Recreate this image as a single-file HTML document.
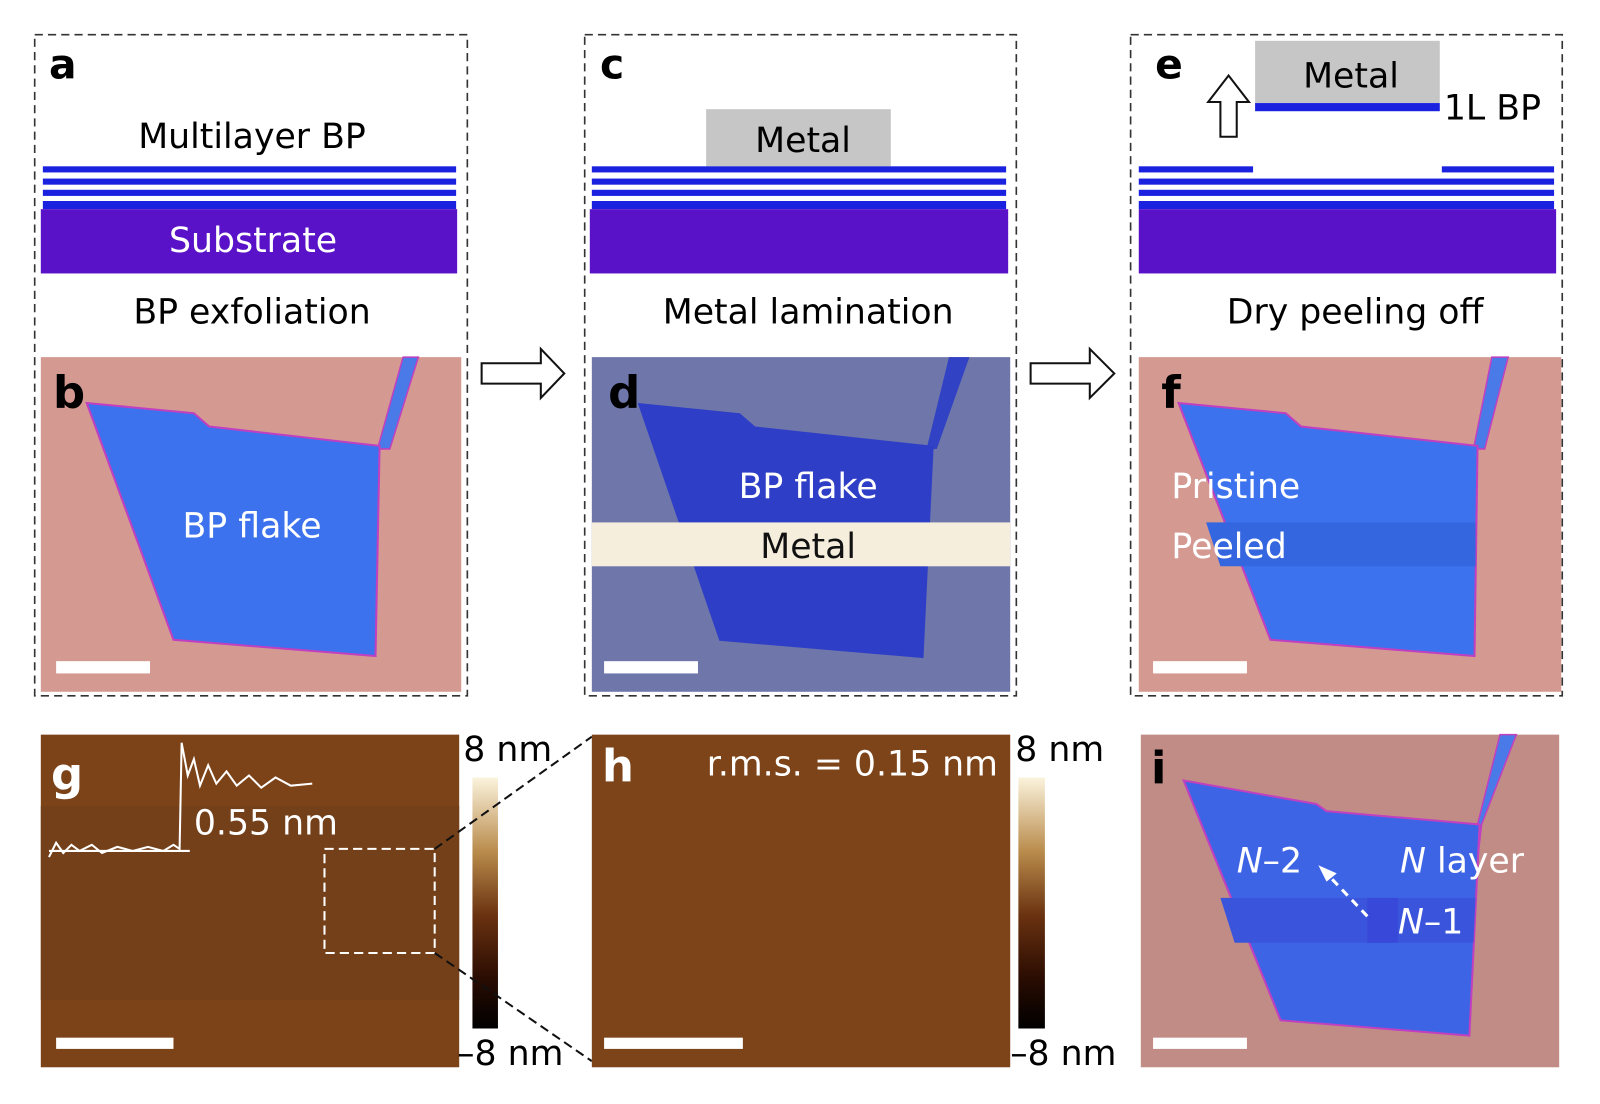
<!DOCTYPE html>
<html><head><meta charset="utf-8"><style>
html,body{margin:0;padding:0;background:#fff}
svg{display:block}
text{font-family:"DejaVu Sans","Liberation Sans",sans-serif}
</style></head><body>
<svg width="1600" height="1104" viewBox="0 0 1568 1082" preserveAspectRatio="none" xmlns="http://www.w3.org/2000/svg">
<defs>
<linearGradient id="cb" x1="0" y1="0" x2="0" y2="1">
<stop offset="0" stop-color="#fbf3dc"/><stop offset="0.3" stop-color="#b88a4a"/><stop offset="0.55" stop-color="#6a3210"/><stop offset="0.8" stop-color="#2a0c02"/><stop offset="1" stop-color="#000"/>
</linearGradient>
</defs>
<rect width="1568" height="1082" fill="#fff"/>
<!-- dashed boxes -->
<g fill="none" stroke="#333" stroke-width="1.6" stroke-dasharray="8,5">
<rect x="34" y="34" width="424" height="648"/>
<rect x="573" y="34" width="423" height="648"/>
<rect x="1108" y="34" width="423" height="648"/>
</g>
<!-- a -->
<text x="48" y="77" font-size="40" font-weight="bold" font-family="Liberation Sans">a</text>
<text x="247" y="145" font-size="34" text-anchor="middle">Multilayer BP</text>
<g fill="#1a22e0">
<rect x="42" y="163" width="405" height="6"/><rect x="42" y="175" width="405" height="6"/><rect x="42" y="186" width="405" height="6"/><rect x="42" y="197" width="405" height="8"/>
</g>
<rect x="40" y="205" width="408" height="63" fill="#5a12c8"/>
<text x="248" y="247" font-size="34" fill="#fff" text-anchor="middle">Substrate</text>
<text x="247" y="317" font-size="34" text-anchor="middle">BP exfoliation</text>
<!-- c -->
<text x="588" y="77" font-size="40" font-weight="bold" font-family="Liberation Sans">c</text>
<rect x="692" y="107" width="181" height="56" fill="#c6c6c6"/>
<text x="787" y="149" font-size="34" text-anchor="middle">Metal</text>
<g fill="#1a22e0">
<rect x="580" y="163" width="406" height="6"/><rect x="580" y="175" width="406" height="6"/><rect x="580" y="186" width="406" height="6"/><rect x="580" y="197" width="406" height="8"/>
</g>
<rect x="578" y="205" width="410" height="63" fill="#5a12c8"/>
<text x="792" y="317" font-size="34" text-anchor="middle">Metal lamination</text>
<!-- e -->
<text x="1132" y="77" font-size="40" font-weight="bold" font-family="Liberation Sans">e</text>
<rect x="1230" y="40" width="181" height="61" fill="#c6c6c6"/>
<rect x="1230" y="101" width="181" height="8" fill="#1a22e0"/>
<text x="1324" y="86" font-size="34" text-anchor="middle">Metal</text>
<text x="1415" y="117" font-size="34">1L BP</text>
<path d="M1196,134 L1196,100 L1184,100 L1204,74 L1224,100 L1212,100 L1212,134 Z" fill="#fff" stroke="#111" stroke-width="2"/>
<g fill="#1a22e0">
<rect x="1116" y="163" width="112" height="6"/><rect x="1413" y="163" width="110" height="6"/><rect x="1116" y="175" width="407" height="6"/><rect x="1116" y="186" width="407" height="6"/><rect x="1116" y="197" width="407" height="8"/>
</g>
<rect x="1116" y="205" width="409" height="63" fill="#5a12c8"/>
<text x="1328" y="317" font-size="34" text-anchor="middle">Dry peeling off</text>
<!-- arrows -->
<path d="M472,356 L530,356 L530,342 L553,366 L530,390 L530,376 L472,376 Z" fill="#fff" stroke="#111" stroke-width="2"/>
<path d="M1010,356 L1068,356 L1068,342 L1092,366 L1068,390 L1068,376 L1010,376 Z" fill="#fff" stroke="#111" stroke-width="2"/>
<!-- b -->
<rect x="40" y="350" width="412" height="328" fill="#d49a92"/>
<path d="M395,350 L410,350 L382,440 L370,440 Z" fill="#4a7ae8" stroke="#c040c0" stroke-width="1.5"/>
<path d="M85,395 L190,405 L205,418 L372,437 L368,643 L170,627 Z" fill="#3c72ee" stroke="#c040c0" stroke-width="2"/>
<text x="52" y="400" font-size="44" font-weight="bold" font-family="Liberation Sans">b</text>
<text x="247" y="527" font-size="34" fill="#fff" text-anchor="middle">BP flake</text>
<rect x="55" y="648" width="92" height="12" fill="#fff"/>
<!-- d -->
<rect x="580" y="350" width="410" height="328" fill="#6e76aa"/>
<path d="M930,350 L950,350 L918,440 L908,440 Z" fill="#3242c4"/>
<path d="M625,395 L725,405 L740,418 L915,437 L905,645 L705,628 Z" fill="#2f3ec6"/>
<rect x="580" y="512" width="410" height="43" fill="#f6eedc"/>
<text x="596" y="400" font-size="44" font-weight="bold" font-family="Liberation Sans">d</text>
<text x="792" y="488" font-size="34" fill="#fff" text-anchor="middle">BP flake</text>
<text x="792" y="547" font-size="34" fill="#111" text-anchor="middle">Metal</text>
<rect x="592" y="648" width="92" height="12" fill="#fff"/>
<!-- f -->
<rect x="1116" y="350" width="414" height="328" fill="#d49a92"/>
<path d="M1462,350 L1478,350 L1455,440 L1444,440 Z" fill="#4a7ae8" stroke="#c040c0" stroke-width="1.5"/>
<path d="M1155,395 L1260,405 L1275,418 L1448,437 L1445,643 L1245,627 Z" fill="#3c72ee" stroke="#c040c0" stroke-width="2"/>
<path d="M1182,512 L1446,512 L1446,555 L1196,555 Z" fill="#3466e0"/>
<text x="1138" y="400" font-size="44" font-weight="bold" font-family="Liberation Sans">f</text>
<text x="1148" y="488" font-size="34" fill="#fff">Pristine</text>
<text x="1148" y="547" font-size="34" fill="#fff">Peeled</text>
<rect x="1130" y="648" width="92" height="12" fill="#fff"/>
<!-- g -->
<rect x="40" y="720" width="410" height="326" fill="#7c4319"/>
<rect x="40" y="790" width="410" height="190" fill="#74401a"/>
<text x="50" y="774" font-size="44" font-weight="bold" font-family="Liberation Sans" fill="#fff">g</text>
<polyline points="48,840 55,826 62,836 70,828 78,834 90,828 100,836 115,830 130,834 145,830 160,834 170,828 176,832 178,728 184,760 190,744 196,770 204,750 212,768 222,756 232,770 244,760 256,772 270,762 285,770 306,768" fill="none" stroke="#fff" stroke-width="2"/>
<line x1="48" y1="834" x2="186" y2="834" stroke="#fff" stroke-width="2"/>
<text x="190" y="818" font-size="34" fill="#fff">0.55 nm</text>
<rect x="318" y="832" width="108" height="102" fill="none" stroke="#fff" stroke-width="2" stroke-dasharray="9,5"/>
<rect x="55" y="1017" width="115" height="11" fill="#fff"/>
<rect x="463" y="762" width="25" height="246" fill="url(#cb)"/>
<text x="454" y="746" font-size="34">8 nm</text>
<text x="448" y="1044" font-size="34">–8 nm</text>
<line x1="426" y1="832" x2="580" y2="722" stroke="#111" stroke-width="2" stroke-dasharray="9,5"/>
<line x1="426" y1="934" x2="580" y2="1040" stroke="#111" stroke-width="2" stroke-dasharray="9,5"/>
<!-- h -->
<rect x="580" y="720" width="410" height="326" fill="#7d4419"/>
<text x="590" y="766" font-size="44" font-weight="bold" font-family="Liberation Sans" fill="#fff">h</text>
<text x="978" y="760" font-size="34" fill="#fff" text-anchor="end">r.m.s. = 0.15 nm</text>
<rect x="592" y="1017" width="136" height="11" fill="#fff"/>
<rect x="998" y="762" width="26" height="246" fill="url(#cb)"/>
<text x="995" y="746" font-size="34">8 nm</text>
<text x="990" y="1044" font-size="34">–8 nm</text>
<!-- i -->
<rect x="1118" y="720" width="410" height="326" fill="#c28c86"/>
<path d="M1470,720 L1486,720 L1452,808 L1446,860 L1448,808 Z" fill="#4a7ae8" stroke="#c040c0" stroke-width="1.5"/>
<path d="M1160,765 L1290,788 L1300,795 L1450,808 L1440,1015 L1255,1000 Z" fill="#3e64e6" stroke="#c040c0" stroke-width="2"/>
<path d="M1196,880 L1446,880 L1444,924 L1210,924 Z" fill="#3a54dc"/>
<rect x="1340" y="880" width="30" height="44" fill="#3848d8"/>
<text x="1128" y="768" font-size="44" font-weight="bold" font-family="Liberation Sans">i</text>
<text x="1212" y="855" font-size="34" fill="#fff"><tspan font-style="italic">N</tspan>–2</text>
<text x="1372" y="855" font-size="34" fill="#fff"><tspan font-style="italic">N</tspan> layer</text>
<text x="1370" y="915" font-size="34" fill="#fff"><tspan font-style="italic">N</tspan>–1</text>
<line x1="1340" y1="898" x2="1302" y2="858" stroke="#fff" stroke-width="3" stroke-dasharray="8,6"/>
<path d="M1292,848 L1310,856 L1300,864 Z" fill="#fff"/>
<rect x="1130" y="1017" width="92" height="11" fill="#fff"/>
</svg>
</body></html>
